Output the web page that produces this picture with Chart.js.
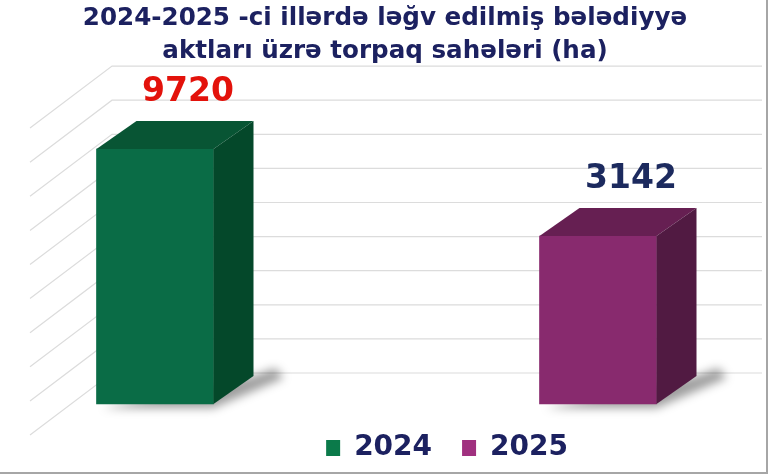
<!DOCTYPE html>
<html>
<head>
<meta charset="utf-8">
<script src="https://cdn.jsdelivr.net/npm/chart.js@4.4.0/dist/chart.umd.min.js"></script>
<style>
  html, body { margin: 0; padding: 0; background: #fff; }
  #wrap { width: 774px; height: 476px; }
</style>
</head>
<body>
<div id="wrap"><canvas id="myChart" width="774" height="476"></canvas></div>
<script>
// data
var titleLines = ["2024-2025 -ci illərdə ləğv edilmiş bələdiyyə", "aktları üzrə torpaq sahələri (ha)"];
var years = ["2024", "2025"];
var areas = [9720, 3142];

// colours
var frontColors = ["#0a6c46", "#882a6e"];
var topColors = ["#085534", "#661f52"];
var sideColors = ["#04482a", "#511a42"];
var legendColors = ["#0b7a4a", "#a0307f"];
var valueColors = ["#e3120b", "#1c2a5e"];
var navy = "#1c2160";
var DX = 40, DY = 28;

function barProps(bar) {
  return bar.getProps(['x', 'y', 'base', 'width'], true);
}

// back wall + left wall lines, floor shadows
var walls = {
  id: 'walls',
  beforeDatasetsDraw: function(chart) {
    var ctx = chart.ctx, a = chart.chartArea;
    var floorY = a.bottom - 31, wallX = a.left - 43, gap = 34.1;
    ctx.save();
    ctx.strokeStyle = '#dcdcdc';
    ctx.lineWidth = 1.2;
    for (var k = 0; k < 10; k++) {
      var y = floorY - k * gap;
      ctx.beginPath();
      ctx.moveTo(wallX - 82, y + 62);
      ctx.lineTo(wallX, y);
      ctx.lineTo(chart.width - 12, y);
      ctx.stroke();
    }
    ctx.filter = 'blur(5px)';
    ctx.fillStyle = 'rgba(0,0,0,0.38)';
    chart.getDatasetMeta(0).data.forEach(function(bar) {
      var p = barProps(bar);
      var l = p.x - p.width / 2, r = p.x + p.width / 2, b = p.base;
      ctx.beginPath();
      ctx.moveTo(l + 6, b + 4);
      ctx.lineTo(r, b + 4);
      ctx.lineTo(r + DX + 30, b - DY + 2);
      ctx.lineTo(r + DX + 22, b - DY - 8);
      ctx.lineTo(r + DX, b - DY);
      ctx.closePath();
      ctx.fill();
    });
    ctx.restore();
  }
};

// top and side faces of the boxes, value labels
var box3d = {
  id: 'box3d',
  afterDatasetsDraw: function(chart) {
    var ctx = chart.ctx;
    ctx.save();
    chart.getDatasetMeta(0).data.forEach(function(bar, i) {
      var p = barProps(bar);
      var l = p.x - p.width / 2, r = p.x + p.width / 2;
      ctx.fillStyle = topColors[i];
      ctx.beginPath();
      ctx.moveTo(l, p.y);
      ctx.lineTo(l + DX, p.y - DY);
      ctx.lineTo(r + DX, p.y - DY);
      ctx.lineTo(r, p.y);
      ctx.closePath();
      ctx.fill();
      ctx.fillStyle = sideColors[i];
      ctx.beginPath();
      ctx.moveTo(r, p.y);
      ctx.lineTo(r + DX, p.y - DY);
      ctx.lineTo(r + DX, p.base - DY);
      ctx.lineTo(r, p.base);
      ctx.closePath();
      ctx.fill();

      ctx.fillStyle = valueColors[i];
      ctx.font = 'bold 33px "DejaVu Sans"';
      ctx.textAlign = 'center';
      ctx.textBaseline = 'alphabetic';
      ctx.fillText(String(areas[i]), p.x + 33, p.y - 48);
    });
    ctx.restore();
  }
};

var frame = {
  id: 'frame',
  afterDraw: function(chart) {
    var ctx = chart.ctx;
    ctx.save();
    ctx.strokeStyle = '#a6a6a6';
    ctx.lineWidth = 2;
    ctx.beginPath();
    ctx.moveTo(767, 0);
    ctx.lineTo(767, 473);
    ctx.lineTo(0, 473);
    ctx.stroke();
    ctx.restore();
  }
};

var ctx = document.getElementById("myChart").getContext('2d');
var myChart = new Chart(ctx, {
  type: 'bar',
  data: {
    labels: years,
    datasets: [{
      data: areas,
      backgroundColor: frontColors,
      borderWidth: 0,
      barThickness: 117,
      clip: false
    }]
  },
  options: {
    responsive: false,
    animation: false,
    layout: { padding: { left: 0, right: 4, top: 0, bottom: 4 } },
    scales: {
      x: { type: 'category', offset: false, display: false },
      // the infographic does not draw heights to scale; a log axis reproduces its proportions
      y: {
        type: 'logarithmic', min: 355, max: 10000, position: 'left',
        ticks: { display: false }, grid: { display: false }, border: { display: false },
        afterFit: function(s) { s.width = 155; }
      },
      y2: {
        type: 'linear', position: 'right',
        ticks: { display: false }, grid: { display: false }, border: { display: false },
        afterFit: function(s) { s.width = 172; }
      }
    },
    plugins: {
      tooltip: { enabled: false },
      title: {
        display: true,
        text: titleLines,
        color: navy,
        font: { family: 'DejaVu Sans', weight: 'bold', size: 24.6, lineHeight: 1.34 },
        padding: { top: 2, bottom: 79 }
      },
      legend: {
        position: 'bottom',
        align: 'end',
        fullSize: false,
        labels: {
          boxWidth: 14,
          boxHeight: 16,
          padding: 30,
          color: navy,
          font: { family: 'DejaVu Sans', weight: 'bold', size: 28 },
          generateLabels: function(chart) {
            return years.map(function(y, i) {
              return { text: y, fillStyle: legendColors[i], strokeStyle: legendColors[i], lineWidth: 0, hidden: false, index: i, fontColor: navy };
            });
          }
        }
      }
    }
  },
  plugins: [walls, box3d, frame]
});
</script>
</body>
</html>
